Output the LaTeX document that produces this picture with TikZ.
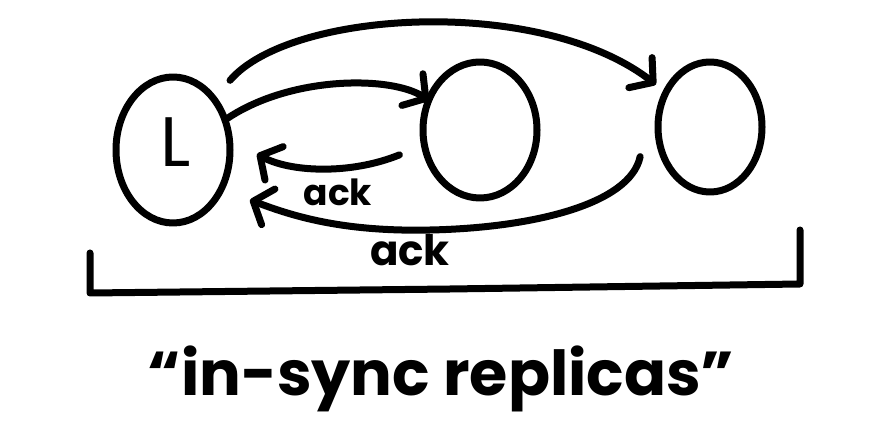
\documentclass[tikz,border=0pt]{standalone}
\usepackage{fontspec}
\setmainfont{Poppins}
\usetikzlibrary{shapes.geometric,arrows.meta}
\begin{document}
\begin{tikzpicture}[x=1pt,y=-1pt,
  ink/.style={line width=7pt, line cap=round, line join=round},
  bubble/.style={ellipse, draw, ink, inner sep=0pt, outer sep=0pt},
  conn/.style={ink, -{Straight Barb[length=16pt,width=38pt,line cap=round,line join=round]}},
  lbl/.style={inner sep=0pt, font=\bfseries}]
\useasboundingbox[fill=white] (0,0) rectangle (876,443);
% replicas
\node[bubble, minimum width=114pt, minimum height=146pt] (L) at (173,150) {};
\node[font=\fontsize{70}{70}\selectfont] (Lt) at (176,142) {L};
\node[bubble, minimum width=114pt, minimum height=136pt] (M) at (480,130) {};
\node[bubble, minimum width=104pt, minimum height=130pt] (R) at (710,127) {};
% writes
\draw[conn] (L.30) .. controls (290,75) and (392,76) .. (M.150);
\draw[conn] ([shift={(16,-19)}]L.51) .. controls (290,10) and (540,-5) .. ([shift={(-10,-8)}]R.142);
% acks
\draw[conn] ([shift={(-25,10)}]M.195) .. controls (350,175) and (290,172) .. ([shift={(27,4)}]L.0);
\draw[conn] ([shift={(-19,16)}]R.195) .. controls (630,205) and (530,228) .. (430,230)
  .. controls (340,232) and (290,215) .. ([shift={(20,50)}]L.0);
\node[lbl, font=\bfseries\fontsize{36}{36}\selectfont] (a1) at (338,192) {ack};
\node[lbl, font=\bfseries\fontsize{42}{42}\selectfont] (a2) at (410,250) {ack};
% bracket
\draw[ink] (90,253) -- (90,293) -- (450,289) -- (800,284) -- (800,230);
\node[anchor=base, inner sep=0pt, font=\bfseries\fontsize{62}{62}\selectfont] (cap) at (441,396) {“in-sync replicas”};
\end{tikzpicture}
\end{document}
